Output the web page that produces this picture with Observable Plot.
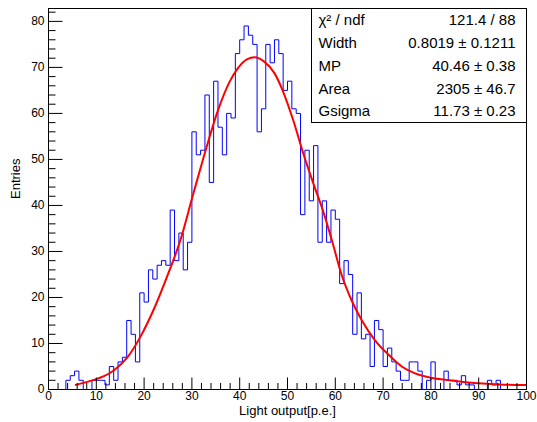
<!DOCTYPE html>
<html><head><meta charset="utf-8">
<script src="https://cdn.jsdelivr.net/npm/d3@7"></script>
<script src="https://cdn.jsdelivr.net/npm/@observablehq/plot@0.6"></script>
<style>body{margin:0;background:#fff} svg{font-family:"Liberation Sans",Arial,Helvetica,sans-serif}</style>
</head><body><div id="chart"></div>
<script>
// Histogram: 110 equal bins between binLow and binHigh
const binLow = 0, binHigh = 100;
const binCounts = [
  0,0,0,0,2,3,4,2,0,0,
  2,2,2,1,5,2,6,7,15,12,
  6,21,19,26,24,27,28,27,39,28,
  34,26,32,56,51,52,64,45,67,57,
  51,60,59,73,76,79,77,75,56,61,
  75,71,76,73,65,67,61,60,38,52,
  41,53,32,41,32,39,37,23,28,25,
  12,21,11,12,5,15,13,5,9,6,
  4,2,2,6,6,4,0,2,6,0,
  0,4,2,2,1,3,1,1,0,0,
  0,2,1,2,0,0,0,0,0,0
];
// Fit curve
const fitX = [5.7,9.5,11.6,13.7,16.5,19.3,22.1,24.6,27.7,30.2,32.6,35.4,37.9,39.6,41.6,43.1,45.2,47.3,49.1,51.2,53.3,55.4,57.5,59.4,61.3,63.4,65.5,68.3,71.2,73.9,76.7,80.3,83.8,87.3,90.8,94.3,99.8];
const fitY = [1.0,2.1,2.9,4.2,7.0,11.6,17.6,24.0,32.8,42.2,51.0,60.5,66.9,69.8,71.8,72.2,71.2,68.7,64.7,58.5,51.3,44.8,38.6,32.0,25.0,19.4,15.1,10.7,7.5,5.0,3.5,2.5,2.0,1.6,1.3,1.1,1.0];
const xMajor = [0,10,20,30,40,50,60,70,80,90,100];
const yMajor = [0,10,20,30,40,50,60,70,80];
const xMinor = d3.range(0,101,2).filter(v => v % 10 !== 0);
const yMinor = d3.range(0,83,2).filter(v => v % 10 !== 0);
const statLabels = ["χ² / ndf","Width","MP","Area","Gsigma"];
const statValues = ["121.4 / 88","0.8019 ± 0.1211","40.46 ± 0.38","2305 ± 46.7","11.73 ± 0.23"];
const xTitle = "Light output[p.e.]";
const yTitle = "Entries";

const W = 537, H = 422, mL = 48, mR = 11, mT = 8, mB = 33;
const fw = W - mL - mR, fh = H - mT - mB;
const nBins = binCounts.length;
const bw = (binHigh - binLow) / nBins;
const steps = binCounts.map((c, i) => ({x: binLow + i * bw, y: c}));
steps.push({x: binHigh, y: binCounts[nBins - 1]});
const fit = fitX.map((x, i) => ({x, y: fitY[i]}));

const plot = Plot.plot({
  width: W, height: H,
  marginLeft: mL, marginRight: mR, marginTop: mT, marginBottom: mB,
  x: {domain: [0, 100]},
  y: {domain: [0, 82.8]},
  style: {fontFamily: '"Liberation Sans",Arial,Helvetica,sans-serif', background: "#fff", color: "#000"},
  marks: [
    Plot.line(steps, {x: "x", y: "y", curve: "step-after", stroke: "#0000ff", strokeWidth: 1}),
    Plot.line(fit, {x: "x", y: "y", curve: "monotone-x", stroke: "#ff0000", strokeWidth: 2}),
    Plot.frame({stroke: "#000"}),
    Plot.ruleX(xMajor, {x: d => d, insetTop: fh - 11.5, stroke: "#000"}),
    Plot.ruleX(xMinor, {x: d => d, insetTop: fh - 6, stroke: "#000"}),
    Plot.ruleY(yMajor, {y: d => d, insetRight: fw - 14.5, stroke: "#000"}),
    Plot.ruleY(yMinor, {y: d => d, insetRight: fw - 7.5, stroke: "#000"}),
    Plot.axisX({ticks: xMajor, tickSize: 0, tickPadding: 2, tickFormat: d => String(d), fontSize: 12, label: null, fill: "#000"}),
    Plot.axisY({ticks: yMajor, tickSize: 0, tickPadding: 4, tickFormat: d => String(d), fontSize: 12, label: null, fill: "#000"}),
    Plot.text([xTitle], {frameAnchor: "bottom", dy: 25, fontSize: 13, fill: "#000"}),
    Plot.text([yTitle], {frameAnchor: "left", dx: -33, rotate: -90, fontSize: 13, fill: "#000"})
  ]
});

// Statistics box (ROOT-style)
const svg = d3.select(plot);
const g = svg.append("g").attr("text-anchor", "start");
const bx = 311.5, by = 8.5, bwid = 215, bh = 114;
g.append("rect").attr("x", bx).attr("y", by).attr("width", bwid).attr("height", bh)
  .attr("fill", "#fff").attr("stroke", "#000").attr("stroke-width", 1);
const rowH = bh / statLabels.length;
statLabels.forEach((lab, i) => {
  const cy = by + rowH * (i + 0.5);
  g.append("text").attr("x", bx + 7).attr("y", cy).attr("dy", "0.35em")
    .attr("text-anchor", "start").attr("font-size", 15).attr("fill", "#000").text(lab);
  g.append("text").attr("x", bx + bwid - 11).attr("y", cy).attr("dy", "0.35em")
    .attr("text-anchor", "end").attr("font-size", 15).attr("fill", "#000").text(statValues[i]);
});
document.getElementById("chart").appendChild(plot);
</script>
</body></html>
